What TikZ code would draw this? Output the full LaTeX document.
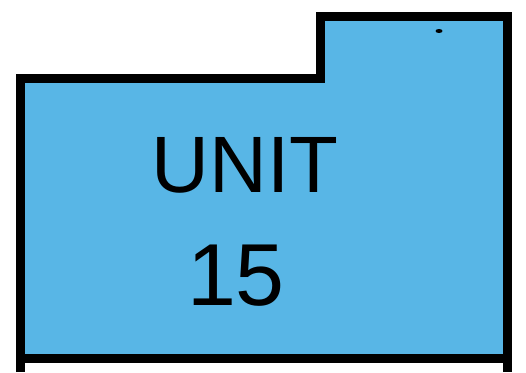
\documentclass[tikz,border=0pt]{standalone}
\usepackage{fontspec}
\setmainfont{Liberation Sans}
\usetikzlibrary{positioning}
\definecolor{unitblue}{RGB}{88,182,230}

\begin{document}
\begin{tikzpicture}[x=1pt,y=-1pt,
  outline/.style={line width=9pt,line join=miter},
  unittext/.style={inner sep=0pt,font=\fontsize{80}{80}\selectfont}]
\useasboundingbox (0,0) rectangle (526,372);
\fill[unitblue] (20,78) -- (320,78) -- (320,16) -- (507,16) -- (507,358) -- (20,358) -- cycle;
\draw[outline] (20,372) -- (20,78) -- (320,78) -- (320,16) -- (507,16) -- (507,372);
\draw[outline] (20,358) -- (507,358);
\fill (439,31) ellipse (3.5pt and 2pt);
\node[unittext,anchor=base] (unit) at (245,192) {UNIT};
\node[unittext,font=\fontsize{88}{88}\selectfont,anchor=base] (num) at (236,305) {15};
\end{tikzpicture}
\end{document}
